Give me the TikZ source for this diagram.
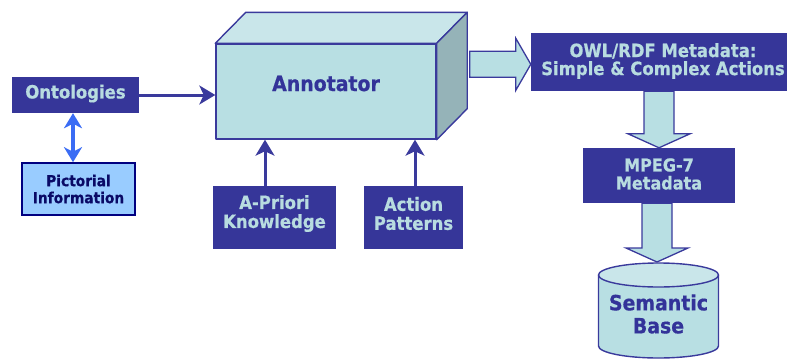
\documentclass[tikz,border=0pt]{standalone}
\usepackage{fontspec}
\setmainfont{DejaVu Sans}
\newfontfamily\labelfont{DejaVu Sans Bold}[FakeStretch=0.9, FakeBold=0.6]
\usetikzlibrary{calc,arrows.meta}

\definecolor{boxblue}{HTML}{363699}
\definecolor{boxtext}{HTML}{B8DCE0}
\definecolor{edgeblue}{HTML}{3A3A9C}
\definecolor{cubefront}{HTML}{B8DFE3}
\definecolor{cubetop}{HTML}{C9E6EA}
\definecolor{cubeside}{HTML}{95B3B8}
\definecolor{picfill}{HTML}{99CCFF}
\definecolor{picedge}{HTML}{000080}
\definecolor{pictext}{HTML}{0A0A66}
\definecolor{linkblue}{HTML}{3A6CF4}
\definecolor{darktext}{HTML}{333399}

\tikzset{
  darkbox/.style={fill=boxblue, draw=none, inner sep=0pt},
  boxlabel/.style={text=boxtext, align=center, inner sep=0pt,
    font=\labelfont\fontsize{18.3}{19}\selectfont},
  picbox/.style={fill=picfill, draw=picedge, line width=1.6pt, inner sep=0pt,
    text=pictext, align=center, font=\labelfont\fontsize{15.3}{17}\selectfont},
  cubeface/.style={draw=edgeblue, line width=1.4pt, line join=round},
  bigtext/.style={text=darktext, align=center, inner sep=0pt,
    font=\labelfont\fontsize{21}{23}\selectfont},
  feed/.style={draw=edgeblue, line width=3pt,
    -{Stealth[length=16pt, width=19pt, inset=4.5pt]}},
  twoway/.style={draw=linkblue, line width=3.6pt,
    {Stealth[length=15pt, width=18pt, inset=4.5pt]}-{Stealth[length=15pt, width=18pt, inset=4.5pt]}},
  blockarrow/.style={fill=cubefront, draw=edgeblue, line width=1.3pt, line join=miter}
}

% hollow block arrow pointing right, from #1 to the tip at #2 (same height)
\newcommand{\blockright}[2]{%
  \draw[blockarrow] let \p1=(#1), \p2=(#2) in
    (\x1,\y1+13pt) -- (\x2-15pt,\y1+13pt) -- (\x2-15pt,\y1+26pt) -- (\x2,\y1)
    -- (\x2-15pt,\y1-26pt) -- (\x2-15pt,\y1-13pt) -- (\x1,\y1-13pt) -- cycle;}

% hollow block arrow pointing down, from the level of #1 to the tip at #2
\newcommand{\blockdown}[2]{%
  \draw[blockarrow] let \p1=(#1), \p2=(#2) in
    (\x2-15pt,\y1) -- (\x2-15pt,\y2+14pt) -- (\x2-31pt,\y2+14pt) -- (\x2,\y2)
    -- (\x2+31pt,\y2+14pt) -- (\x2+15pt,\y2+14pt) -- (\x2+15pt,\y1) -- cycle;}

\begin{document}
\begin{tikzpicture}[x=1pt, y=-1pt]
  \useasboundingbox (0,0) rectangle (787,359);

  % sources on the left
  \node[darkbox, minimum width=127pt, minimum height=36pt] (ont) at (75.5,95) {};
  \node[boxlabel] (ontlab) at (75.5,93.5) {Ontologies};
  \node[picbox, minimum width=113pt, minimum height=52pt] (pic) at (78.5,189)
    {Pictorial\\Information};

  % annotator block
  \node[cubeface, fill=cubefront, minimum width=220pt, minimum height=95pt,
        inner sep=0pt] (ann) at (326,91.5) {};
  \filldraw[cubeface, fill=cubetop] (ann.north west) -- ($(ann.north west)+(30.5,-31)$)
     -- ($(ann.north east)+(30.5,-31)$) -- (ann.north east) -- cycle;
  \filldraw[cubeface, fill=cubeside] (ann.north east) -- ($(ann.north east)+(30.5,-31)$)
     -- ($(ann.south east)+(30.5,-31)$) -- (ann.south east) -- cycle;
  \node[bigtext] (annlab) at ($(ann.center)+(0,-8)$) {Annotator};

  % knowledge inputs
  \node[darkbox, minimum width=123pt, minimum height=63pt] (apk) at (274.5,217.5) {};
  \node[boxlabel] (apklab) at ($(apk.center)+(0,-4)$) {A-Priori\\Knowledge};
  \node[darkbox, minimum width=99pt, minimum height=63pt] (act) at (413.5,217.5) {};
  \node[boxlabel] (actlab) at ($(act.center)+(0,-4)$) {Action\\Patterns};

  % outputs on the right
  \node[darkbox, minimum width=264pt, minimum height=58pt] (owl) at (663,62) {};
  \node[boxlabel, font=\labelfont\fontsize{18.3}{18}\selectfont] (owllab) at (663,61)
    {OWL/RDF Metadata:\\Simple \& Complex Actions};
  \node[darkbox, minimum width=152pt, minimum height=55pt] (mpg) at (659,175.5) {};
  \node[boxlabel, font=\labelfont\fontsize{17.8}{18}\selectfont] (mpglab) at (659,174)
    {MPEG-7\\Metadata};

  % semantic base cylinder
  \filldraw[cubeface, fill=cubefront] (598.5,275) -- (598.5,346)
     arc[start angle=180, end angle=360, x radius=60pt, y radius=12pt]
     -- (718.5,275) -- cycle;
  \filldraw[cubeface, fill=cubetop] (658.5,275) ellipse[x radius=60pt, y radius=12pt];
  \node[bigtext] (sb) at (658.5,314) {Semantic\\Base};
  \coordinate (cyltop) at (657,262);

  % connectors
  \draw[feed] (ont.east) -- (ann.west |- ont.east);
  \coordinate (apkout) at ($(apk.north)+(-9.5,0)$);
  \draw[feed] (apkout) -- (apkout |- ann.south);
  \coordinate (actout) at ($(act.north)+(1.5,0)$);
  \draw[feed] (actout) -- (actout |- ann.south);
  \coordinate (ontdown) at ($(ont.south)+(-2.5,0)$);
  \draw[twoway] (ontdown) -- (ontdown |- pic.north);

  \coordinate (annout) at ($(ann.north east)+(33,21)$);
  \blockright{annout}{owl.west |- annout}
  \blockdown{owl.south}{mpg.north}
  \blockdown{mpg.south}{cyltop}
\end{tikzpicture}
\end{document}
